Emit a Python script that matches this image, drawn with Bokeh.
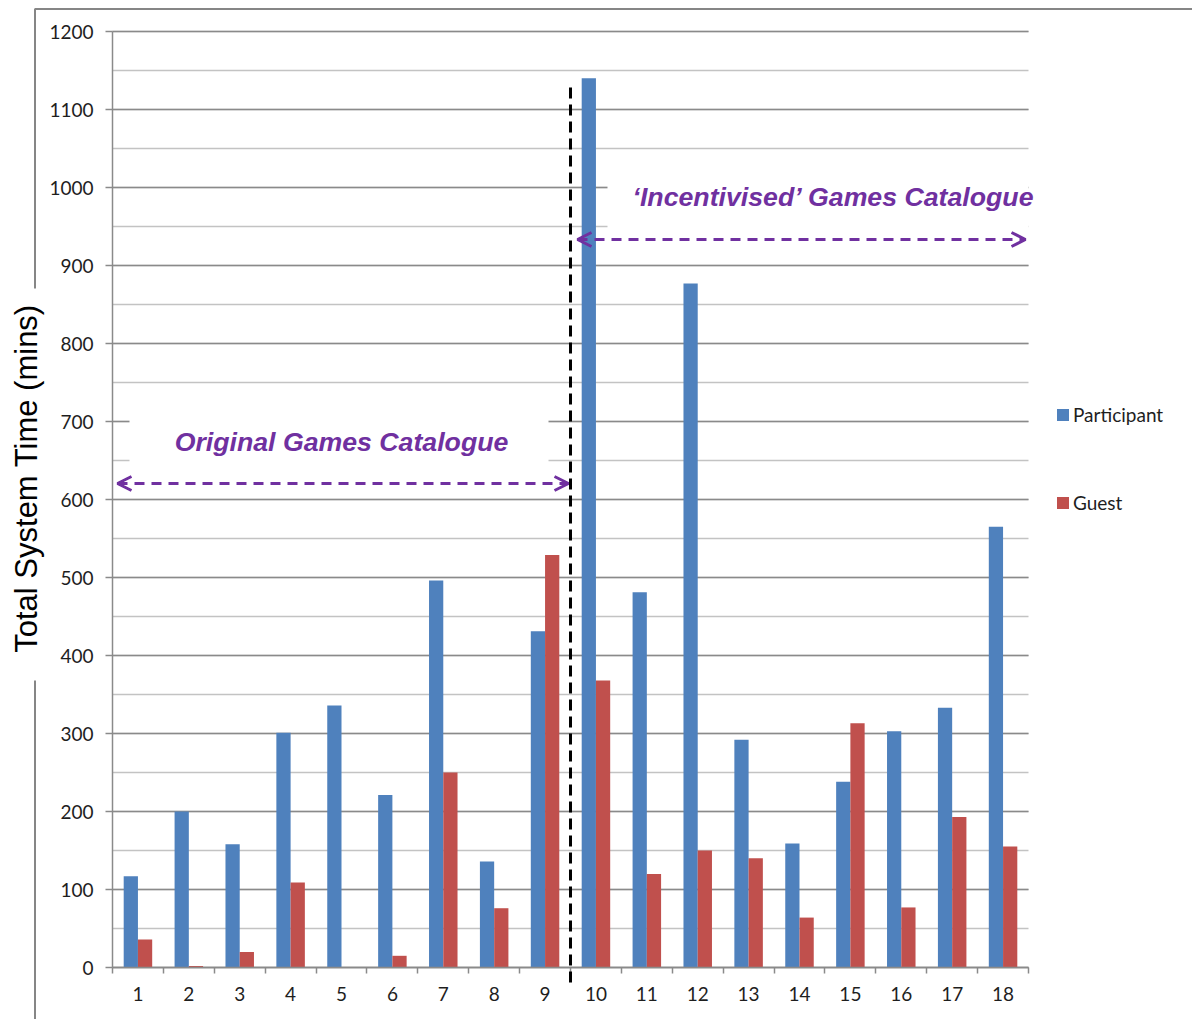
import math

from bokeh.embed import file_html
from bokeh.models import (Arrow, BoxAnnotation, ColumnDataSource, FixedTicker, Grid, Label,
                          Legend, LegendItem, OpenHead, Range1d, SingleIntervalTicker)
from bokeh.plotting import figure
from bokeh.resources import INLINE
from bokeh.transform import dodge

# ---- data -------------------------------------------------------------
games = list(range(1, 19))
participant = [117, 200, 158, 301, 336, 221, 496, 136, 431,
               1140, 481, 877, 292, 159, 238, 303, 333, 565]
guest = [36, 2, 20, 109, 0, 15, 250, 76, 529,
         368, 120, 150, 140, 64, 313, 77, 193, 155]
y_max = 1200
y_step = 100
series_names = ["Participant", "Guest"]
title_y = "Total System Time (mins)"
label_original = "Original Games Catalogue"
label_incentivised = "\u2018Incentivised\u2019 Games Catalogue"

BLUE = "#4F81BD"
RED = "#C0504D"
PURPLE = "#7030A0"
AXIS_GREY = "#8A8A8A"
MINOR_GREY = "#C3C3C3"
TICK_FONT = "Lato"
TICK_SIZE = "19px"

# ---- page geometry (pixels) -----------------------------------------------
W, H = 1192, 1019
PLOT_L, PLOT_R, PLOT_T, PLOT_B = 112, 1028, 31, 967
x_lo, x_hi = 0.5, len(games) + 0.5
x_per_px = (x_hi - x_lo) / (PLOT_R - PLOT_L)
y_per_px = y_max / (PLOT_B - PLOT_T)


def sx(px):
    """pixel column -> x data value"""
    return x_lo + (px - PLOT_L) * x_per_px


def sy(py):
    """pixel row -> y data value"""
    return (PLOT_B - py) * y_per_px


src = ColumnDataSource(dict(game=games, participant=participant, guest=guest))

# the frame spans the whole canvas; axes sit at fixed locations inside it
p = figure(width=W, height=H, output_backend="svg", toolbar_location=None,
           x_range=Range1d(sx(0), sx(W)), y_range=Range1d(sy(H), sy(0)),
           min_border=0, min_border_left=0, min_border_right=0,
           min_border_top=0, min_border_bottom=0)
p.title.visible = False
p.outline_line_color = None
p.background_fill_color = "white"
p.border_fill_color = "white"

# ---- axes ----------------------------------------------------------------
xa = p.xaxis[0]
xa.fixed_location = 0
xa.bounds = (x_lo, x_hi)
xa.ticker = FixedTicker(ticks=games, minor_ticks=[g - 0.5 for g in games] + [x_hi])
xa.major_tick_out = 0
xa.major_tick_in = 0
xa.minor_tick_out = 6
xa.minor_tick_in = 0
xa.minor_tick_line_color = AXIS_GREY
xa.minor_tick_line_width = 1.5
xa.axis_line_color = AXIS_GREY
xa.axis_line_width = 1.5
xa.major_label_standoff = 13
xa.major_label_text_font = TICK_FONT
xa.major_label_text_font_size = TICK_SIZE
xa.major_label_text_color = "#1E1E1E"

ya = p.yaxis[0]
ya.fixed_location = x_lo
ya.bounds = (0, y_max)
ya.ticker = SingleIntervalTicker(interval=y_step, num_minor_ticks=2)
ya.major_tick_out = 7
ya.major_tick_in = 0
ya.major_tick_line_color = AXIS_GREY
ya.major_tick_line_width = 1.5
ya.minor_tick_out = 0
ya.minor_tick_in = 0
ya.axis_line_color = AXIS_GREY
ya.axis_line_width = 1.5
ya.major_label_standoff = 12
ya.major_label_text_font = TICK_FONT
ya.major_label_text_font_size = TICK_SIZE
ya.major_label_text_color = "#1E1E1E"

p.xgrid.grid_line_color = None
yg = p.ygrid[0]
yg.bounds = (0, y_max)
yg.grid_line_color = AXIS_GREY
yg.grid_line_width = 1.5
yg.minor_grid_line_color = MINOR_GREY
yg.minor_grid_line_width = 1.5
if "cross_bounds" in Grid.properties():
    yg.cross_bounds = (x_lo, x_hi)
else:
    yg.visible = False
    major = list(range(y_step, y_max + 1, y_step))
    minor = [v - y_step / 2 for v in major]
    p.segment(x0=x_lo, x1=x_hi, y0=minor, y1=minor, line_color=MINOR_GREY, line_width=1.5)
    p.segment(x0=x_lo, x1=x_hi, y0=major, y1=major, line_color=AXIS_GREY, line_width=1.5)

# ---- bars ----------------------------------------------------------------
r_part = p.vbar(x=dodge("game", -0.14, range=p.x_range), top="participant", width=0.28,
                source=src, fill_color=BLUE, line_color=None)
r_guest = p.vbar(x=dodge("game", 0.14, range=p.x_range), top="guest", width=0.28,
                 source=src, fill_color=RED, line_color=None)

legend = Legend(items=[LegendItem(label=series_names[0], renderers=[r_part]),
                       LegendItem(label=series_names[1], renderers=[r_guest])],
                location=(1055, 505), orientation="vertical",
                glyph_width=15, glyph_height=15, label_standoff=3,
                spacing=65, padding=0, margin=0,
                border_line_color=None, background_fill_alpha=0,
                label_text_font=TICK_FONT, label_text_font_size=TICK_SIZE,
                label_text_color="#1E1E1E")
p.add_layout(legend, "center")

# ---- outer frame and y title ---------------------------------------------
p.add_layout(BoxAnnotation(left=sx(34.5), right=sx(W + 40), top=sy(8.5), bottom=sy(H + 40),
                           fill_color=None, fill_alpha=0,
                           line_color="#868686", line_alpha=1, line_width=2))
p.add_layout(BoxAnnotation(left=sx(28), right=sx(40), top=sy(288), bottom=sy(680),
                           fill_color="white", fill_alpha=1, line_color=None))
p.add_layout(Label(x=sx(26), y=sy(478), text=title_y, angle=math.pi / 2,
                   text_align="center", text_baseline="middle",
                   text_font="Liberation Sans", text_font_size="31px",
                   text_color="black"))

# ---- catalogue annotations -------------------------------------------------
p.add_layout(BoxAnnotation(left=sx(129), right=sx(548), bottom=630, top=735,
                           fill_color="white", fill_alpha=1, line_color=None))
p.add_layout(BoxAnnotation(left=sx(607), right=x_hi, bottom=945, top=1040,
                           fill_color="white", fill_alpha=1, line_color=None))

for txt, tx, ty in [(label_original, sx(341), sy(441)),
                    (label_incentivised, sx(833), sy(196))]:
    p.add_layout(Label(x=tx, y=ty, text=txt, text_align="center", text_baseline="middle",
                       text_font="Liberation Sans", text_font_size="26.7px",
                       text_font_style="bold italic", text_color=PURPLE))

for xs, xe, yv in [(sx(117), sx(568), sy(483)), (sx(577), sx(1025), sy(239))]:
    p.add_layout(Arrow(x_start=xs, y_start=yv, x_end=xe, y_end=yv,
                       start=OpenHead(size=14, line_color=PURPLE, line_width=3),
                       end=OpenHead(size=14, line_color=PURPLE, line_width=3),
                       line_color=PURPLE, line_width=3, line_dash="10 7"))

# divider between the two catalogues
p.add_layout(Arrow(x_start=9.5, y_start=sy(87), x_end=9.5, y_end=sy(984), end=None,
                   line_color="black", line_width=3, line_dash="11 6"))

open("out.html", "w").write(file_html(p, INLINE))
